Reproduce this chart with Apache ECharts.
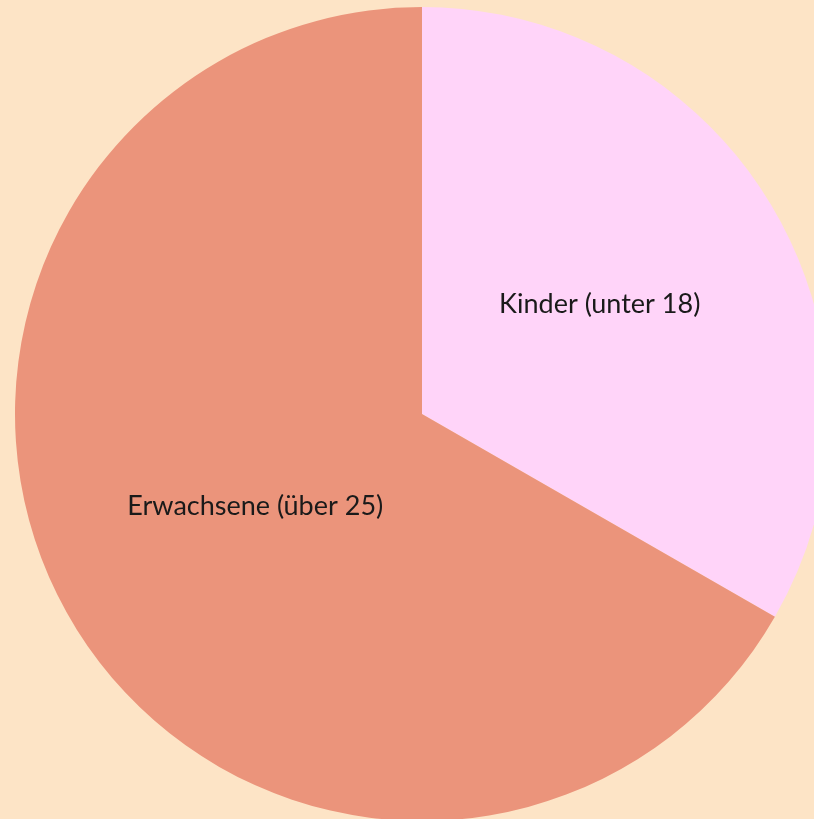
<!DOCTYPE html>
<html>
<head>
<meta charset="utf-8">
<script src="https://cdn.jsdelivr.net/npm/echarts@6/dist/echarts.min.js"></script>
<style>
  html, body { margin: 0; padding: 0; background: #fde4c6; }
  #chart { width: 814px; height: 819px; }
</style>
</head>
<body>
<div id="chart"></div>
<script>
// Daten
const categories = ['Kinder (unter 18)', 'Erwachsene (über 25)'];
const values = [33.3, 66.7];
const colors = ['#ffd4f9', '#eb947b'];
const labelOffsets = [[-1, -6], [12, -11]];

const chart = echarts.init(document.getElementById('chart'));
const option = {
  backgroundColor: '#fde4c6',
  animation: false,
  series: [{
    type: 'pie',
    center: [422, 414],
    radius: [0, 407],
    startAngle: 90,
    clockwise: true,
    avoidLabelOverlap: false,
    label: {
      show: true,
      position: 'inside',
      formatter: '{b}',
      color: '#1a1a1a',
      fontSize: 27,
      fontFamily: 'Lato'
    },
    labelLine: { show: false },
    itemStyle: { borderWidth: 0 },
    emphasis: { disabled: true },
    data: categories.map((name, i) => ({
      name: name,
      value: values[i],
      itemStyle: { color: colors[i] },
      label: { offset: labelOffsets[i] }
    }))
  }]
};
chart.setOption(option);
</script>
</body>
</html>
